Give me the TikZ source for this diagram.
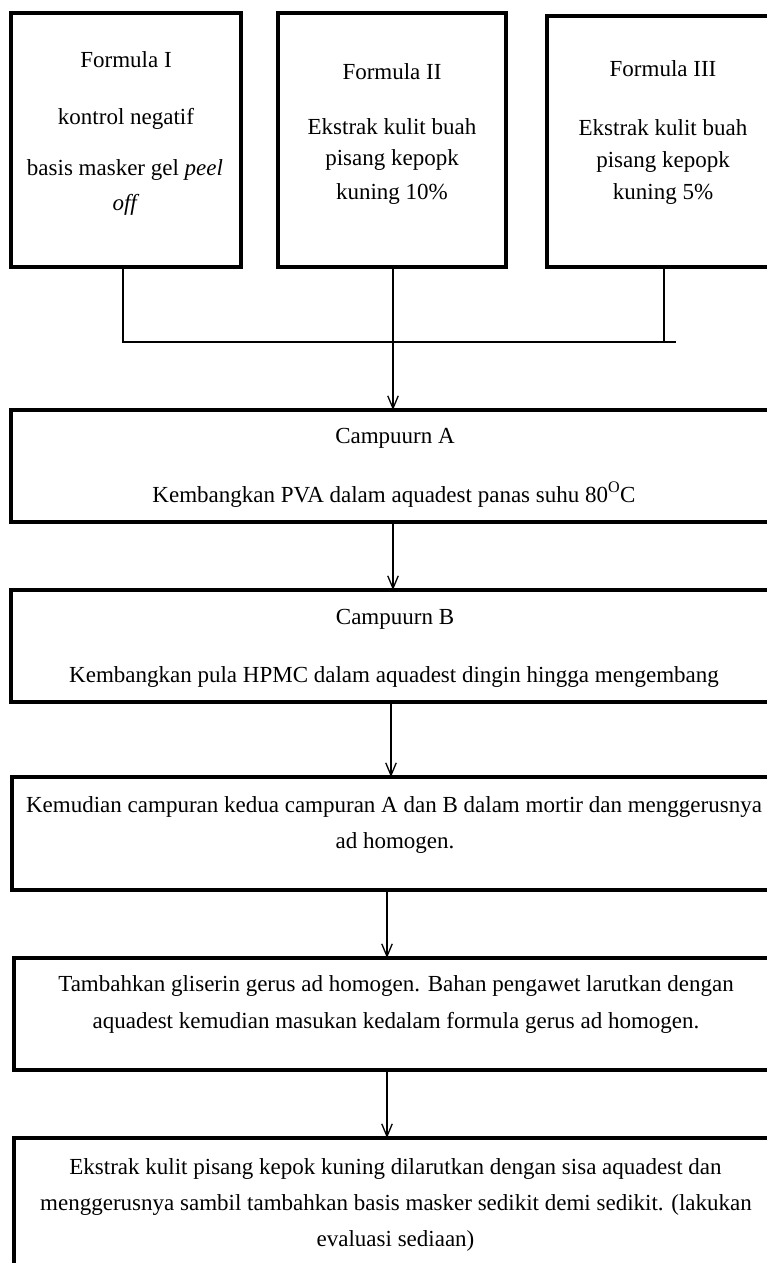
\documentclass[tikz,border=0pt]{standalone}
\usepackage{fontspec}
\setmainfont{Liberation Serif}
\usetikzlibrary{arrows.meta}
\tikzset{
  box/.style={draw, line width=3.8pt, rectangle, inner sep=0pt, outer sep=0pt},
  txt/.style={anchor=base, inner sep=0pt, font=\fontsize{23}{35}\selectfont},
  conn/.style={line width=1.3pt},
  arr/.style={line width=1.3pt, -{Straight Barb[length=12.5pt,width=10.5pt,line width=1.3pt]}}
}
\begin{document}
\begin{tikzpicture}[x=1pt,y=-1pt]
\useasboundingbox (0,0) rectangle (767,1263);
\clip (0,0) rectangle (767,1263);
% top boxes
\node[box, minimum width=230pt, minimum height=254pt] (F1) at (126,140) {};
\node[box, minimum width=228pt, minimum height=254pt] (F2) at (392,140) {};
\node[box, minimum width=228pt, minimum height=251pt] (F3) at (661,141.5) {};
% texts top
\node[txt] (f1a) at (126,67) {Formula I};
\node[txt] (f1b) at (126,124) {kontrol negatif};
\node[txt] (f1c) at (125,175) {basis masker gel \textit{peel}};
\node[txt] (f1d) at (126,210) {\textit{off}};
\node[txt] (f2a) at (392,79) {Formula II};
\node[txt] (f2b) at (392,134) {Ekstrak kulit buah};
\node[txt] (f2c) at (392,165) {pisang kepopk};
\node[txt] (f2d) at (392,199) {kuning 10\%};
\node[txt] (f3a) at (663,77) {Formula III};
\node[txt] (f3b) at (663,135) {Ekstrak kulit buah};
\node[txt] (f3c) at (663,167) {pisang kepopk};
\node[txt] (f3d) at (663,199) {kuning 5\%};
% process boxes
\node[box, minimum width=764pt, minimum height=112pt] (A) at (393,466) {};
\node[box, minimum width=764pt, minimum height=112pt] (B) at (393,646) {};
\node[box, minimum width=763pt, minimum height=113pt] (C) at (393.5,833.5) {};
\node[box, minimum width=761pt, minimum height=112pt] (D) at (394.5,1014) {};
\node[box, minimum width=761pt, minimum height=144pt] (E) at (394.5,1210) {};
% texts
\node[txt] (a1) at (395,443) {Campuurn A};
\node[txt] (a2) at (394,502) {Kembangkan PVA dalam aquadest panas suhu 80\textsuperscript{O}C};
\node[txt] (b1) at (395,624) {Campuurn B};
\node[txt] (b2) at (394,682) {Kembangkan pula HPMC dalam aquadest dingin hingga mengembang};
\node[txt] (c1) at (394,812) {Kemudian campuran kedua campuran A dan B dalam mortir dan menggerusnya};
\node[txt] (c2) at (395,848) {ad homogen.};
\node[txt] (d1) at (396,991) {Tambahkan gliserin gerus ad homogen. Bahan pengawet larutkan dengan};
\node[txt] (d2) at (396,1028) {aquadest kemudian masukan kedalam formula gerus ad homogen.};
\node[txt] (e1) at (395.5,1174) {Ekstrak kulit pisang kepok kuning dilarutkan dengan sisa aquadest dan};
\node[txt] (e2) at (396,1210) {menggerusnya sambil tambahkan basis masker sedikit demi sedikit. (lakukan};
\node[txt] (e3) at (395.5,1246) {evaluasi sediaan)};
% connectors
\coordinate (hL) at (123,342);
\coordinate (hR) at (676,342);
\draw[conn] ([xshift=-3pt]F1.south) -- (hL) -- (hR);
\draw[conn] ([xshift=3pt]F3.south) -- ([xshift=3pt]F3.south |- hR);
\draw[arr] ([xshift=1pt]F2.south) -- ([xshift=1pt]F2.south |- A.north);
\draw[arr] (A.south) -- (B.north);
\draw[arr] ([xshift=-2pt]B.south) -- ([xshift=-2pt]B.south |- C.north);
\draw[arr] ([xshift=-6.5pt]C.south) -- ([xshift=-6.5pt]C.south |- D.north);
\draw[arr] ([xshift=-7.5pt]D.south) -- ([xshift=-7.5pt]D.south |- E.north);
\end{tikzpicture}
\end{document}
